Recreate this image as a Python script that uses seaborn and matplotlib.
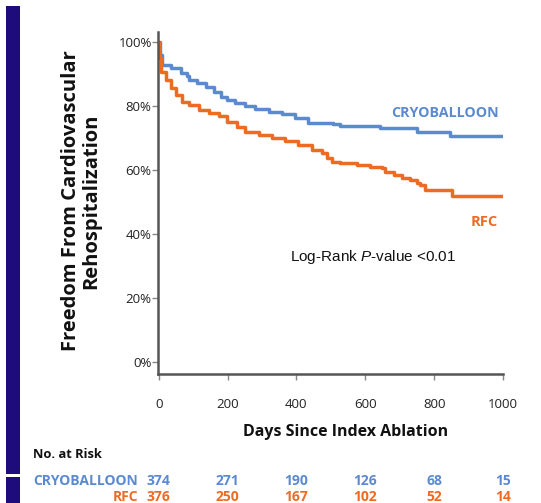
import matplotlib
matplotlib.use("Agg")
import matplotlib.pyplot as plt
import matplotlib.transforms as mtransforms
from matplotlib.patches import Rectangle
import numpy as np
import pandas as pd
import seaborn as sns

# Kaplan-Meier estimates (freedom from CV rehospitalization, %)
cryo_days = [0, 3, 11, 35, 64, 83, 88, 112, 136, 160, 180, 199, 223, 252, 281,
             319, 358, 397, 435, 507, 527, 643, 750, 846, 1000]
cryo_surv = [100, 96, 92.8, 91.7, 90.2, 89.2, 88.1, 87.1, 86.0, 84.5, 82.9, 81.9,
             80.8, 80.1, 79.1, 78.2, 77.4, 76.1, 74.8, 74.3, 73.75, 73.0, 72.0,
             70.6, 70.6]

rfc_days = [0, 2, 6, 20, 35, 49, 69, 88, 116, 145, 174, 199, 228, 252, 290, 330,
            368, 406, 445, 474, 489, 503, 527, 576, 614, 648, 658, 682, 706, 730,
            750, 759, 774, 851, 1000]
rfc_surv = [100, 95, 90.7, 88.1, 85.5, 83.4, 81.3, 80.3, 78.75, 77.7, 76.7, 75.1,
            73.5, 72.0, 70.9, 69.9, 68.9, 67.8, 66.25, 65.2, 63.6, 62.6, 62.1, 61.6,
            61.0, 60.5, 59.5, 58.4, 57.4, 56.9, 55.8, 55.3, 53.75, 51.9, 51.9]

groups = ["CRYOBALLOON", "RFC"]
risk_days = [0, 200, 400, 600, 800, 1000]
cryo_at_risk = [374, 271, 190, 126, 68, 15]
rfc_at_risk = [376, 250, 167, 102, 52, 14]
y_ticks = [0, 20, 40, 60, 80, 100]

BLUE = "#5b8ad0"
ORANGE = "#ee6b24"
NAVY = "#1e0b7c"

sns.set_theme(style="white")
plt.rcParams["font.family"] = ["Open Sans", "DejaVu Sans"]
plt.rcParams["mathtext.fontset"] = "custom"
plt.rcParams["mathtext.rm"] = "Liberation Sans"
plt.rcParams["mathtext.it"] = "Liberation Sans:italic"

df = pd.concat([
    pd.DataFrame({"days": cryo_days, "surv": cryo_surv, "group": groups[0]}),
    pd.DataFrame({"days": rfc_days, "surv": rfc_surv, "group": groups[1]}),
], ignore_index=True)

W, H = 541, 503
fig = plt.figure(figsize=(W / 100, H / 100), dpi=100)
ax = fig.add_axes([158 / W, 1 - 374 / H, (503 - 158) / W, (374 - 32) / H])


def fx(px):
    return px / W


def fy(py):
    return 1 - py / H


sns.lineplot(data=df, x="days", y="surv", hue="group", palette=[BLUE, ORANGE],
             drawstyle="steps-post", linewidth=2.5, legend=False, ax=ax,
             estimator=None, sort=False)

ax.set_xlim(-2, 1000)
ax.set_ylim(-3.75, 103.1)
ax.set_xticks(risk_days)
ax.set_yticks(y_ticks)
ax.set_yticklabels([f"{v}%" for v in y_ticks])
ax.set_xlabel("")
ax.set_ylabel("")

for side in ["top", "right"]:
    ax.spines[side].set_visible(False)
for side in ["left", "bottom"]:
    ax.spines[side].set_color("#555555")
    ax.spines[side].set_linewidth(1.8)

ax.tick_params(axis="both", which="major", direction="out", length=4, width=1,
               color="#888888", labelcolor="#222222", labelsize=9.5)
ax.tick_params(axis="y", pad=0.5, left=True)
ax.tick_params(axis="x", pad=13, bottom=True)

# Curve labels and test result
ax.text(fx(499), fy(113), "CRYOBALLOON", transform=fig.transFigure, ha="right",
        va="center", color=BLUE, fontsize=10.3, fontweight="bold")
ax.text(fx(498), fy(222), "RFC", transform=fig.transFigure, ha="right",
        va="center", color=ORANGE, fontsize=10.5, fontweight="bold")
ax.text(fx(373), fy(257), r"Log-Rank $\mathit{P}$-value <0.01",
        transform=fig.transFigure, ha="center", va="center", color="#111111",
        fontsize=11, family="Liberation Sans")

# Axis titles
fig.text(fx(81), fy(201), "Freedom From Cardiovascular\nRehospitalization",
         rotation=90, ha="center", va="center", multialignment="center",
         fontsize=14.5, fontweight="bold", color="#111111", linespacing=1.05)
fig.text(fx(346), fy(432), "Days Since Index Ablation", ha="center",
         va="center", fontsize=11.5, fontweight="bold", color="#111111")

# Number at risk table
fig.text(fx(33), fy(455), "No. at Risk", ha="left", va="center",
         fontsize=9.3, fontweight="bold", color="#111111")
row_tf = mtransforms.blended_transform_factory(ax.transData, fig.transFigure)
for name, counts, color, ypx in [(groups[0], cryo_at_risk, BLUE, 481),
                                 (groups[1], rfc_at_risk, ORANGE, 497)]:
    fig.text(fx(138), fy(ypx), name, ha="right", va="center", fontsize=10,
             fontweight="bold", color=color)
    for d, n in zip(risk_days, counts):
        ax.text(d, fy(ypx), str(n), transform=row_tf, ha="center", va="center",
                fontsize=10, fontweight="bold", color=color, clip_on=False)

# Side bar
fig.patches.append(Rectangle((fx(6), 0), fx(20) - fx(6), fy(6), transform=fig.transFigure,
                             facecolor=NAVY, edgecolor="none", figure=fig, zorder=0))
fig.patches.append(Rectangle((fx(6), fy(477)), fx(20) - fx(6), fy(474) - fy(477),
                             transform=fig.transFigure, facecolor="white",
                             edgecolor="none", figure=fig, zorder=1))

fig.savefig("out.png", dpi=100)
